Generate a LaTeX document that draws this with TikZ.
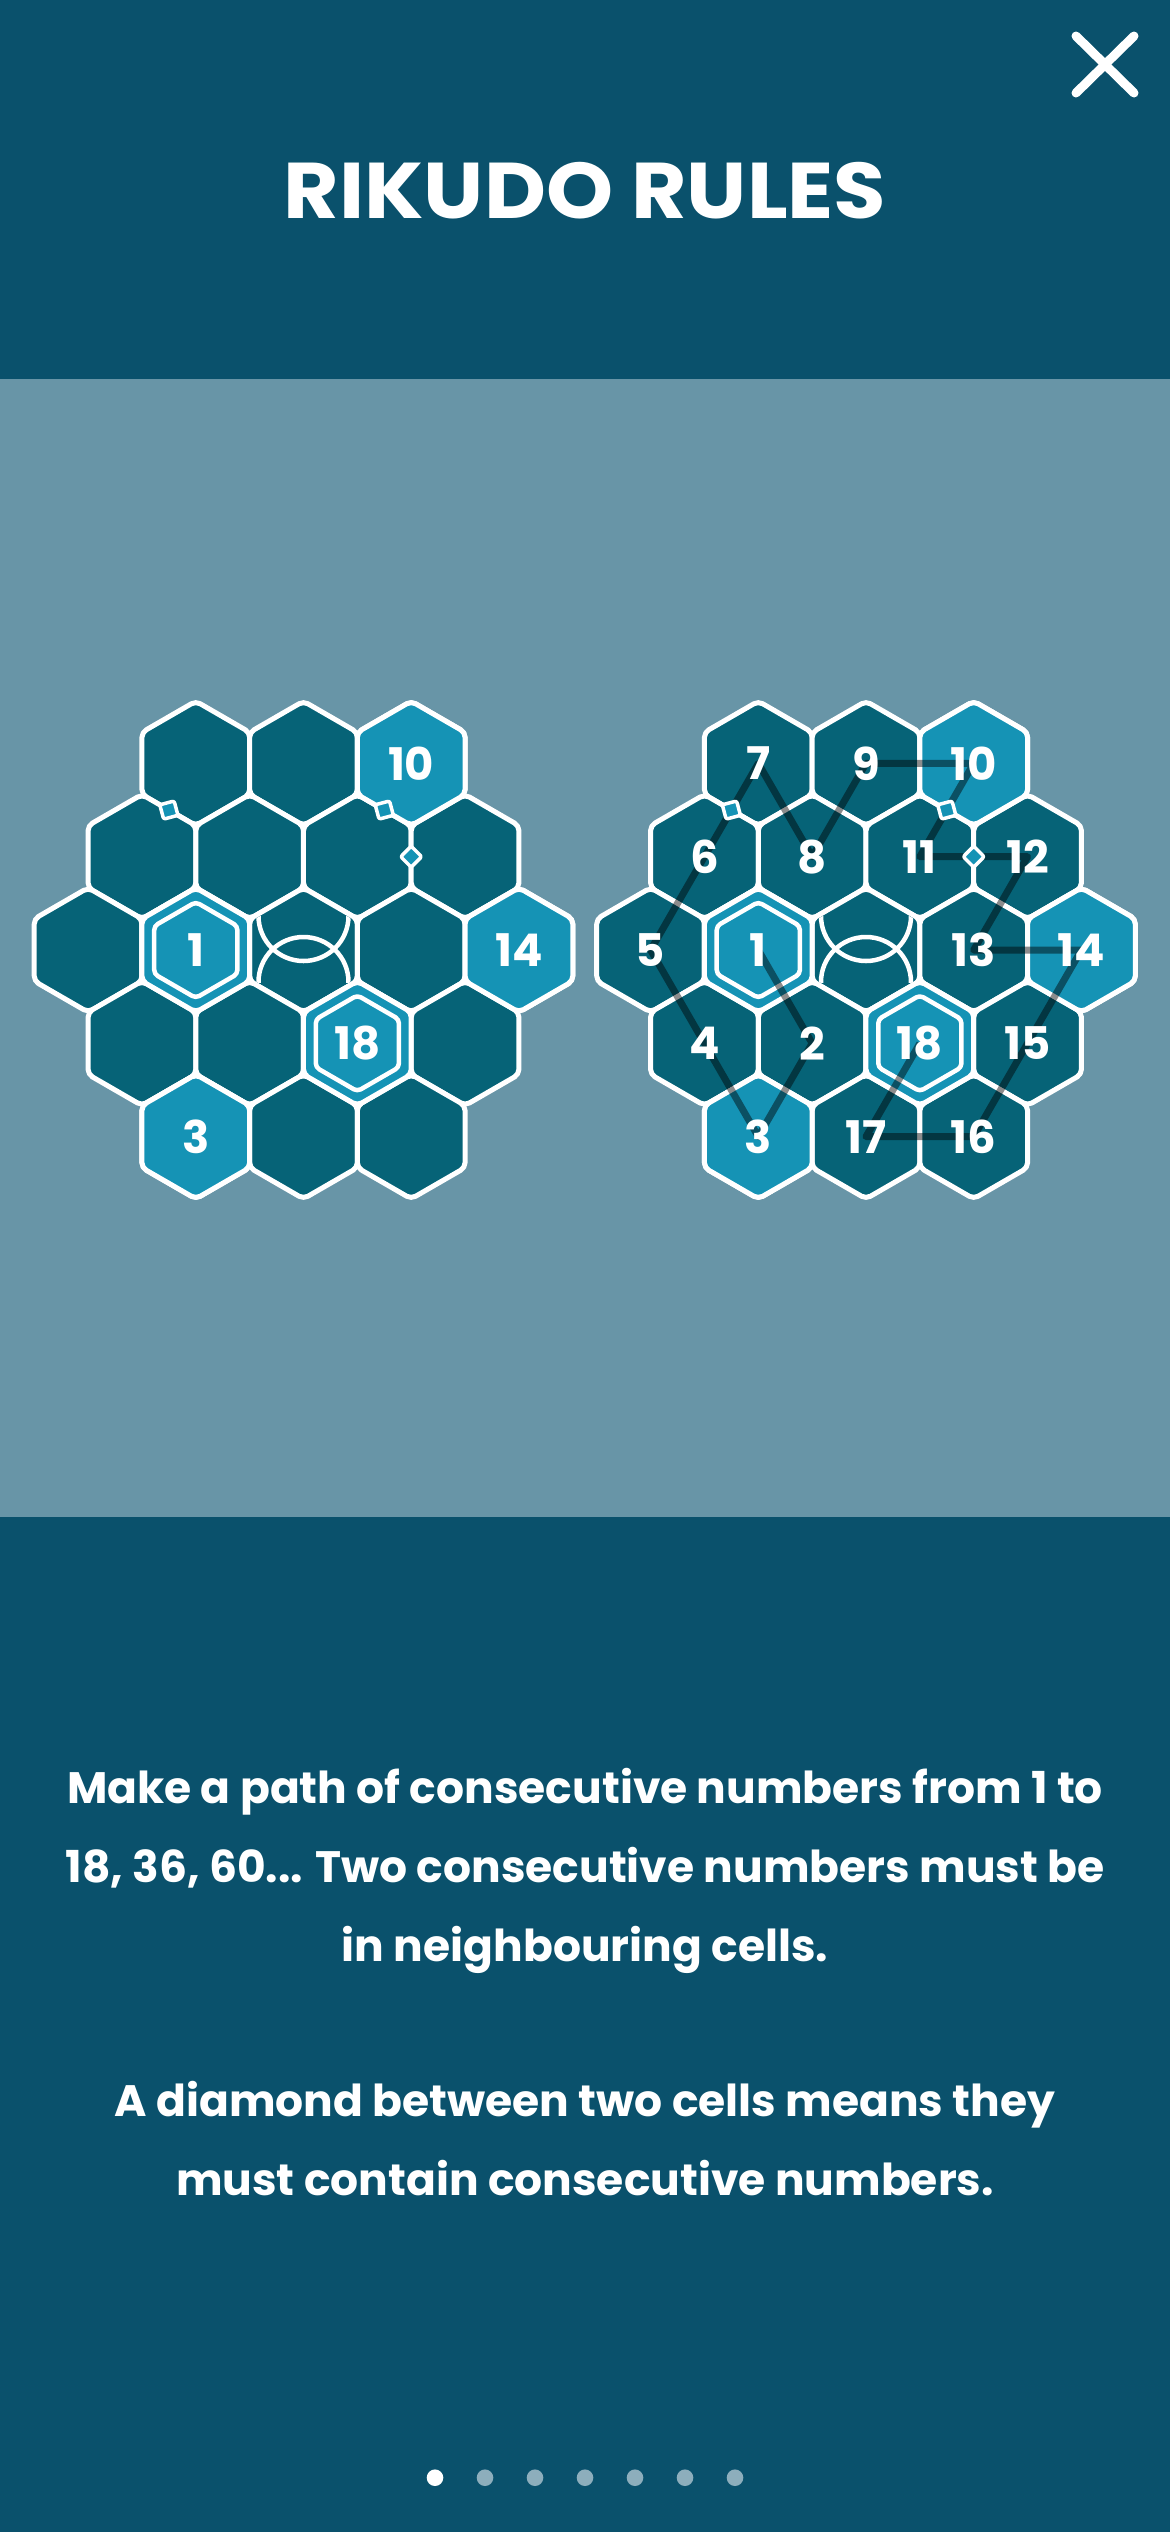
\documentclass[tikz,border=0pt]{standalone}
\usepackage{fontspec}
\setmainfont{Poppins}
\usetikzlibrary{calc}
\definecolor{hdr}{HTML}{0A516C}
\definecolor{midband}{HTML}{6895A7}
\definecolor{cdark}{HTML}{066377}
\definecolor{clight}{HTML}{1593B5}
\definecolor{dotc}{HTML}{8DAEBC}
\newcommand\hexcell[3][]{\draw[#1,shift={(#2)}] (30:#3)--(90:#3)--(150:#3)--(210:#3)--(270:#3)--(330:#3)--cycle;}
\newcommand\hexclip[2]{\clip[shift={(#1)}] (30:#2)--(90:#2)--(150:#2)--(210:#2)--(270:#2)--(330:#2)--cycle;}
\newcommand\diamat[2]{\coordinate (dm) at ($(#1)!0.5!(#2)$);
  \draw[diamst] ($(dm)!10.5pt!(#2)$) -- ($(dm)!10.5pt!90:(#2)$) -- ($(dm)!10.5pt!180:(#2)$) -- ($(dm)!10.5pt!270:(#2)$) -- cycle;}
\begin{document}
\begin{tikzpicture}[x=1pt,y=-1pt,
  cellD/.style={fill=cdark,draw=white,line width=5pt,rounded corners=5pt,line join=round},
  cellL/.style={fill=clight,draw=white,line width=5pt,rounded corners=5pt,line join=round},
  innerh/.style={draw=white,line width=4.5pt,rounded corners=4pt,line join=round},
  arcst/.style={draw=white,line width=4.5pt},
  diamst/.style={fill=clight,draw=white,line width=3.5pt,rounded corners=2pt,line join=round},
  pathln/.style={draw=black,draw opacity=0.45,line width=7pt,line join=round},
  num/.style={text=white,font=\bfseries\fontsize{45}{45}\selectfont,inner sep=0pt},
  txt/.style={text=white,font=\bfseries\fontsize{44}{44}\selectfont,inner sep=0pt,anchor=base},
  dotst/.style={fill=dotc}]
\useasboundingbox (0,0) rectangle (1170,2532);
% backgrounds
\fill[hdr] (0,0) rectangle (1170,379);
\fill[midband] (0,379) rectangle (1170,1517);
\fill[hdr] (0,1517) rectangle (1170,2532);
% close icon
\draw[white,line width=9pt,line cap=round] (1076,36) -- (1134,93);
\draw[white,line width=9pt,line cap=round] (1134,36) -- (1076,93);
% title
\node[anchor=base,text=white,font=\bfseries\fontsize{79}{79}\selectfont,inner sep=0pt,xscale=1.08] (title) at (585,218) {RIKUDO RULES};
% cell centres
\foreach \G/\gx in {L/303.5,R/866}{
  \foreach \r in {0,...,4}{
    \pgfmathtruncatemacro\nn{5-abs(\r-2)}
    \pgfmathtruncatemacro\mm{\nn-1}
    \foreach \c in {0,...,\mm}{
      \pgfmathsetmacro\xx{\gx+(\c-(\nn-1)/2)*107.7}
      \pgfmathsetmacro\yy{950+(\r-2)*93.3}
      \coordinate (\G\r\c) at (\xx,\yy);
    }
  }
}
% cells
\foreach \G in {L,R}{
  \foreach \r in {0,...,4}{
    \pgfmathtruncatemacro\mm{4-abs(\r-2)}
    \foreach \c in {0,...,\mm}{\hexcell[cellD]{\G\r\c}{62.2}}
  }
  \foreach \k in {02,24,40,21,32}{\hexcell[cellL]{\G\k}{62.2}}
  \foreach \k in {21,32}{\hexcell[innerh]{\G\k}{48}}
}
% centre symbol
\foreach \G in {L,R}{
  \begin{scope}
    \hexclip{\G22}{59}
    \begin{scope}
      \clip ($(\G22)+(-70,-34)$) rectangle ($(\G22)+(70,70)$);
      \draw[arcst] ($(\G22)+(0,-34)$) circle[radius=45pt];
    \end{scope}
    \begin{scope}
      \clip ($(\G22)+(-70,-70)$) rectangle ($(\G22)+(70,32)$);
      \draw[arcst] ($(\G22)+(0,32)$) circle[radius=45pt];
    \end{scope}
  \end{scope}
}
% solution path
\draw[pathln] (R21) -- (R31) -- (R40) -- (R30) -- (R20) -- (R10) -- (R00) -- (R11) -- (R01) -- (R02) -- (R12) -- (R13) -- (R23) -- (R24) -- (R33) -- (R42) -- (R41) -- (R32);
% diamonds
\foreach \G in {L,R}{
  \diamat{\G00}{\G10}
  \diamat{\G02}{\G12}
  \diamat{\G12}{\G13}
}
% numbers
\foreach \k/\t in {02/10,21/1,24/14,32/18,40/3}{\node[num] (nL\k) at (L\k) {\t};}
\foreach \k/\t in {00/7,01/9,02/10,10/6,11/8,12/11,13/12,20/5,21/1,23/13,24/14,30/4,31/2,32/18,33/15,40/3,41/17,42/16}{\node[num] (nR\k) at (R\k) {\t};}
% rules text
\node[txt] (t1) at (585,1803) {Make a path of consecutive numbers from 1 to};
\node[txt] (t2) at (585,1882) {18, 36, 60... Two consecutive numbers must be};
\node[txt] (t3) at (585,1961) {in neighbouring cells.};
\node[txt] (t4) at (585,2116) {A diamond between two cells means they};
\node[txt] (t5) at (585,2195) {must contain consecutive numbers.};
% page dots
\fill[white] (435,2477.7) circle[radius=8.3pt];
\foreach \i in {1,...,6}{\fill[dotst] (435+50*\i,2477.7) circle[radius=8.3pt];}
\end{tikzpicture}
\end{document}
